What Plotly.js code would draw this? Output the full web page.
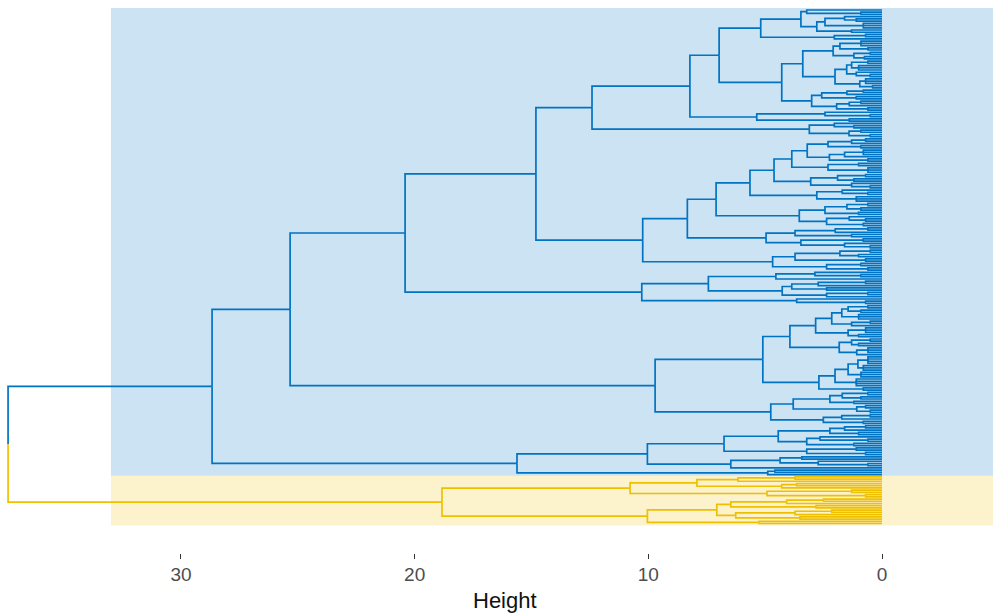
<!DOCTYPE html>
<html>
<head>
<meta charset="utf-8">
<script src="https://cdn.plot.ly/plotly-3.0.1.min.js"></script>
<style>html,body{margin:0;padding:0;background:#fff;}#chart{width:993px;height:615px;}</style>
</head>
<body>
<div id="chart"></div>
<script>
// ---------------- data ----------------
const clusterNames = ["Cluster 1", "Cluster 2"];
const clusterColors = ["#0073C2", "#EFC000"];
const tickValues = [30, 20, 10, 0];
const tickLabels = ["30", "20", "10", "0"];
const axisTitle = "Height";
const rootHeight = 37.40;
const rectHeight = 33.0;

// Dendrogram merges, Newick-like: "(a,b)h" = merge at height h,
// "n@h" = n leaves joined at height h, "1" = one leaf, names = sub-trees below.
const P1aTop = "(((1,2@0.9)3.22,(((1,2@1.1)1.6,3@0.8)2.44,2@1.3)2.79)3.47,(2@0.7,1)2.04)5.19";
const N832 = "((3@0.9,2@0.6)1.8,(2@0.5,2@0.75)1.2)2.09";
const N835 = "(((2@0.6,3@1.0)1.3,(1,2@0.5)1.1)1.51,(3@0.7,2@0.4)0.95)2.01";
const N811 = "(((2@0.8,1)1.5,2@1.1)2.58,((2@0.9,1)1.4,2@0.6)1.94)3.01";
const P1aBot = "((N832,N835)3.39,N811)4.29";
const P1b = "((1,2@0.5)2.44,2@1.4)5.36";
const P2 = "((1,2@1.2)2.04,(2@0.9,2@0.5)1.41)3.11";
const P = "(((P1aTop,P1aBot)6.97,P1b)8.22,P2)12.41";
const N774 = "(((((2@0.7,1)1.3,2@0.9)2.31,((3@0.8,1)1.6,2@0.6)2.25)3.20,(2@1.0,3@0.6)2.31)3.86,((2@0.7,2@1.2)1.9,(1,2@0.5)1.3)3.05)4.62";
const N816 = "((1,2@0.6)1.7,3@1.1)2.79";
const N799 = "(((2@0.6,2@0.9)1.5,2@1.0)2.44,((1,2@0.7)1.4,2@0.8)2.37)3.54";
const N766 = "(((2@0.6,1)2.0,2@1.3)3.72,(2@0.8,(1,2@0.5)1.6)3.47)4.96";
const N772 = "(((2@0.5,2@1.0)1.8,2@0.7)3.72,(2@0.9,2@0.6)2.37)4.68";
const Q = "((((N774,N816)5.65,N799)7.10,N766)8.33,N772)10.24";
const N776 = "((1,2@0.9)2.87,1)4.54";
const N782 = "(((2@0.7,1)2.73,2@2.37)3.86,(2@0.6,1)2.37)4.27";
const N796 = "(1,2@0.7)3.65";
const U1b = "((N776,N782)7.43,N796)10.28";
const U1 = "((P,Q)14.81,U1b)20.41";
const N815 = "((((2@0.6,2@0.9)1.45,3@1.0)1.72,(2@0.5,1)1.3)2.15,(3@0.7,2@1.0)1.45)2.84";
const N839 = "((2@0.5,2@1.0)1.3,(3@0.6,1)1.08)1.83";
const N819 = "((((4@0.6,3@0.8)1.03,3@0.9)1.45,4@1.1)2.01,2@0.8)2.70";
const N770 = "((((2@0.6,2@0.9)1.7,2@1.2)2.23,(2@0.7,2@0.5)1.08)3.80,((2@0.5,1)1.72,2@0.8)2.51)4.76";
const U2 = "(((N815,N839)3.94,N819)5.10,N770)9.71";
const U = "(U1,U2)25.33";
const N724 = "((((2@0.7,1)1.6,2@1.0)2.23,((1,2@0.6)2.65,2@1.2)3.22)4.44,(2@1.1,2@0.7)3.22)6.76";
const N730 = "((2@3.43,(1,2@0.6)2.73)4.36,1)6.47";
const N767 = "(2@4.58,1)4.89";
const L = "((N724,N730)10.04,N767)15.62";
const BlueTree = "(U,L)28.67";
const YA = "(((2@3.72,1)6.16,(2@3.65,1)4.29)7.92,(2@1.3,2@0.7)4.92)10.78";
const YB = "((((2@2.5,1)4.08,2@2.82)6.47,((2@2.15,1)3.72,2@3.51)6.26)7.07,2@5.26)10.04";
const YellowTree = "(YA,YB)18.83";

const named = {P1aTop, N832, N835, N811, P1aBot, P1b, P2, P, N774, N816, N799, N766, N772, Q,
  N776, N782, N796, U1b, U1, N815, N839, N819, N770, U2, U, N724, N730, N767, L, YA, YB};

// ---------------- parsing / layout ----------------
function parseTree(str) {
  let pos = 0;
  const skip = () => { while (str[pos] === ' ') pos++; };
  const num = () => {
    skip();
    const m = /^-?\d+(\.\d+)?/.exec(str.slice(pos));
    pos += m[0].length;
    return parseFloat(m[0]);
  };
  function node() {
    skip();
    if (str[pos] === '(') {
      pos++;
      const kids = [];
      for (;;) {
        kids.push(node()); skip();
        if (str[pos] === ',') { pos++; continue; }
        if (str[pos] === ')') { pos++; break; }
        throw new Error('parse error at ' + pos);
      }
      return {kids: kids, h: num()};
    }
    const id = /^[A-Za-z_][A-Za-z0-9_]*/.exec(str.slice(pos));
    if (id) { pos += id[0].length; return parseTree(named[id[0]]); }
    const n = num();
    if (str[pos] === '@') { pos++; return {comb: n, h: num()}; }
    return {comb: 1, h: 0};
  }
  return node();
}

let leafCounter = 0;
function place(nd) {
  if (nd.comb !== undefined) {
    if (nd.comb === 1) { nd.y = leafCounter++; nd.h = 0; nd.leaf = true; return; }
    nd.kids = [];
    for (let k = 0; k < nd.comb; k++) nd.kids.push({y: leafCounter++, h: 0, leaf: true});
  } else {
    nd.kids.forEach(place);
  }
  nd.y = (nd.kids[0].y + nd.kids[nd.kids.length - 1].y) / 2;
}

function collect(nd, xs, ys) {
  if (nd.leaf) return;
  nd.kids.forEach(c => {
    xs.push(c.h, nd.h, nd.h, null);
    ys.push(c.y, c.y, nd.y, null);
    collect(c, xs, ys);
  });
}

const blue = parseTree(BlueTree);
const yellow = parseTree(YellowTree);
place(blue);
const blueCount = leafCounter;
place(yellow);
const totalLeaves = leafCounter;
const rootY = (blue.y + yellow.y) / 2;

const traces = [blue, yellow].map((tree, i) => {
  const xs = [], ys = [];
  collect(tree, xs, ys);
  xs.push(tree.h, rootHeight, rootHeight, null);
  ys.push(tree.y, tree.y, rootY, null);
  return {
    type: 'scatter', mode: 'lines', name: clusterNames[i],
    x: xs, y: ys, connectgaps: false,
    line: {color: clusterColors[i], width: 1.7},
    hoverinfo: 'skip', showlegend: false
  };
});

// ---------------- geometry of the frame ----------------
const W = 993, H = 615, plotBottom = 553;
const leafTopPx = 10, leafBottomPx = 523.5;
const pxPerLeaf = (leafBottomPx - leafTopPx) / (totalLeaves - 1);
const yTopVal = -leafTopPx / pxPerLeaf;
const yBotVal = (plotBottom - leafTopPx) / pxPerLeaf;
const zeroPx = 882, pxPerUnit = 23.367;
const xLeftVal = zeroPx / pxPerUnit;
const xRightVal = -(W - zeroPx) / pxPerUnit;

const rects = [
  {y0: -0.9, y1: blueCount - 0.5, color: clusterColors[0]},
  {y0: blueCount - 0.5, y1: totalLeaves - 0.1, color: clusterColors[1]}
].map(r => ({
  type: 'rect', xref: 'x', yref: 'y', x0: rectHeight, x1: xRightVal,
  y0: r.y0, y1: r.y1, fillcolor: r.color, opacity: 0.2,
  line: {width: 0}, layer: 'below'
}));

const layout = {
  width: W, height: H,
  margin: {l: 0, r: 0, t: 0, b: H - plotBottom, pad: 0},
  paper_bgcolor: '#ffffff', plot_bgcolor: '#ffffff',
  showlegend: false,
  font: {family: 'Liberation Sans, Arial, sans-serif'},
  xaxis: {
    range: [xLeftVal, xRightVal],
    tickvals: tickValues, ticktext: tickLabels,
    ticks: 'outside', ticklen: 5, tickwidth: 1, tickcolor: '#333333',
    tickfont: {size: 19, color: '#4D4D4D'},
    ticklabelstandoff: -1,
    showgrid: false, zeroline: false, showline: false, fixedrange: true
  },
  yaxis: {
    range: [yBotVal, yTopVal], visible: false,
    showgrid: false, zeroline: false, fixedrange: true
  },
  shapes: rects,
  annotations: [{
    text: axisTitle, xref: 'paper', yref: 'paper',
    x: 505 / W, y: -(600 - plotBottom) / plotBottom,
    xanchor: 'center', yanchor: 'middle', showarrow: false,
    font: {size: 22, color: '#111111'}
  }]
};

Plotly.newPlot('chart', traces, layout, {staticPlot: true, displayModeBar: false});
</script>
</body>
</html>
